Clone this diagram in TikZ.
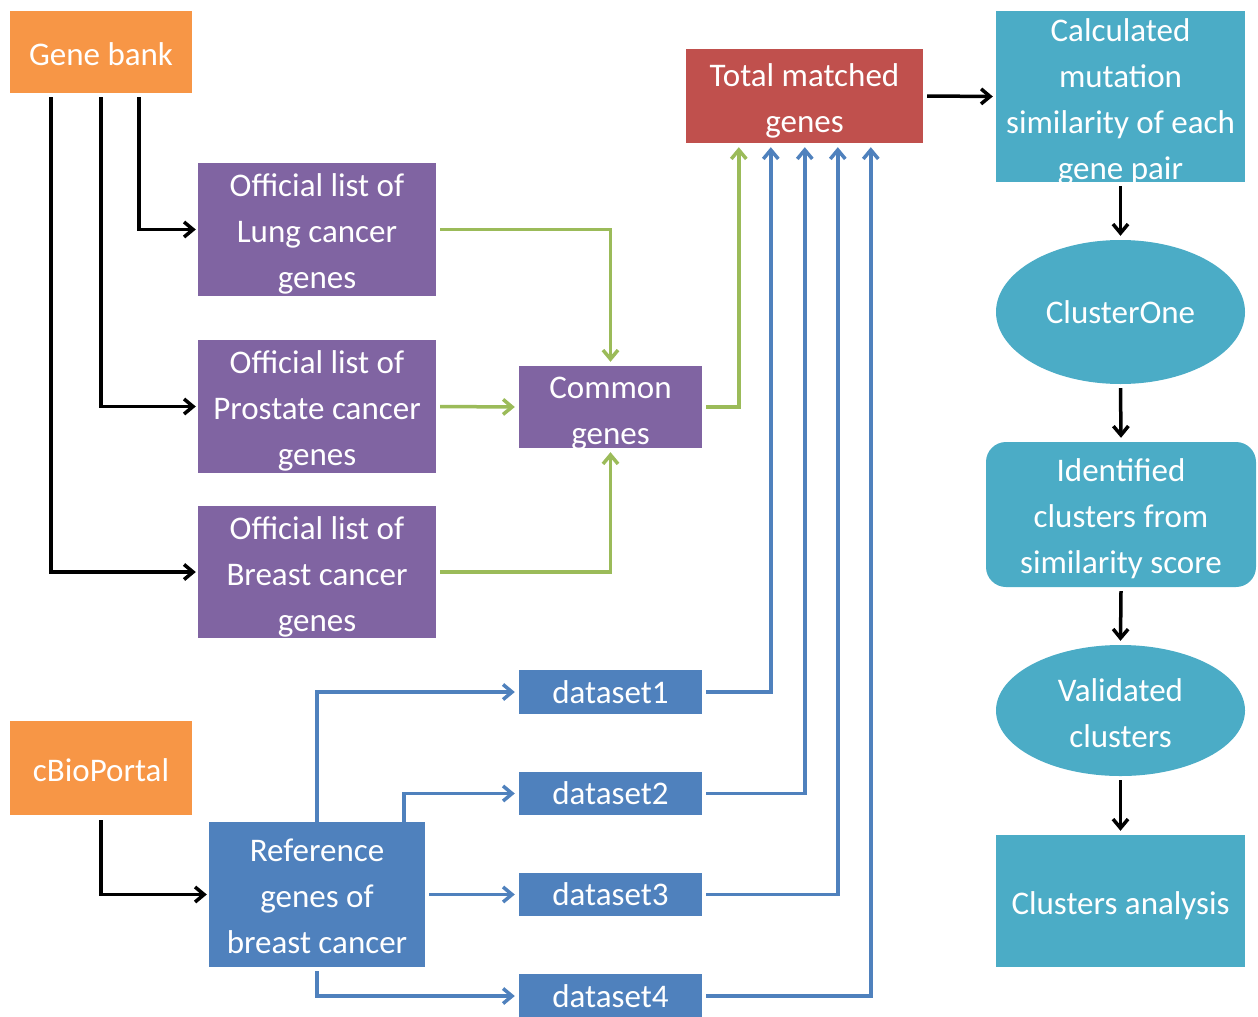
\documentclass[tikz,border=0pt]{standalone}
\usepackage{fontspec}
\setmainfont{Carlito}
\usetikzlibrary{arrows.meta,calc,shapes.geometric}
\definecolor{cOrange}{HTML}{F79646}
\definecolor{cPurple}{HTML}{8064A2}
\definecolor{cRed}{HTML}{C0504D}
\definecolor{cTeal}{HTML}{4BACC6}
\definecolor{cBlue}{HTML}{4F81BD}
\definecolor{cGreen}{HTML}{9BBB59}
\newcommand{\mystrut}[1]{\rule{0pt}{#1pt}}
\tikzset{
  box/.style={rectangle, inner sep=0pt, text=white, align=center,
    font=\fontsize{33}{46}\selectfont},
  tip/.style={-{Straight Barb[length=9pt,width=15pt]}},
  blk/.style={draw=black, line width=3.5pt, tip},
  grn/.style={draw=cGreen, line width=3.5pt, tip},
  blu/.style={draw=cBlue, line width=3.5pt, tip},
}
\begin{document}
\begin{tikzpicture}[x=1pt,y=-1pt]
\useasboundingbox (0,0) rectangle (1258,1017);
% nodes
\node[box, fill=cOrange, minimum width=182pt, minimum height=82pt] (gb) at (101,52) {\mystrut{28}Gene bank};
\node[box, fill=cPurple, minimum width=238pt, minimum height=133pt] (lung) at (317,229.5) {\mystrut{32}Official list of\\Lung cancer\\genes};
\node[box, fill=cPurple, minimum width=238pt, minimum height=133pt] (prost) at (317,406.5) {\mystrut{32}Official list of\\Prostate cancer\\genes};
\node[box, fill=cPurple, minimum width=238pt, minimum height=132pt] (breast) at (317,572) {\mystrut{32}Official list of\\Breast cancer\\genes};
\node[box, fill=cPurple, minimum width=183pt, minimum height=82pt] (common) at (610.5,407) {\mystrut{28}Common\\\smash{genes}};
\node[box, fill=cRed, minimum width=237pt, minimum height=94pt] (total) at (804.5,96) {\mystrut{32}Total matched\\genes};
\node[box, fill=cTeal, minimum width=249pt, minimum height=171pt] (calc) at (1120.5,96.5) {\mystrut{27}Calculated\\mutation\\similarity of each\\\smash{gene pair}};
\node[box, ellipse, fill=cTeal, minimum width=249pt, minimum height=144pt] (c1) at (1120.5,312) {ClusterOne};
\node[box, fill=cTeal, rounded corners=20pt, minimum width=270pt, minimum height=145pt] (ident) at (1121,514.5) {\mystrut{32}Identified\\clusters from\\similarity score};
\node[box, ellipse, fill=cTeal, minimum width=249pt, minimum height=131pt] (valid) at (1120.5,710.5) {\mystrut{28}Validated\\clusters};
\node[box, fill=cTeal, minimum width=249pt, minimum height=132pt] (canal) at (1120.5,901) {\mystrut{33}Clusters analysis};
\node[box, fill=cOrange, minimum width=182pt, minimum height=94pt] (cbio) at (101,768) {\mystrut{28}cBioPortal};
\node[box, fill=cBlue, minimum width=216pt, minimum height=145pt] (ref) at (317,894.5) {\mystrut{27}Reference\\genes of\\breast cancer};
\node[box, fill=cBlue, minimum width=183pt, minimum height=44pt] (d1) at (610.5,692) {dataset1};
\node[box, fill=cBlue, minimum width=183pt, minimum height=43pt] (d2) at (610.5,793.5) {dataset2};
\node[box, fill=cBlue, minimum width=183pt, minimum height=43pt] (d3) at (610.5,894.5) {dataset3};
\node[box, fill=cBlue, minimum width=183pt, minimum height=44pt] (d4) at (610.5,996) {dataset4};
% black connectors
\draw[blk] ($(gb.south west)+(129,4)$) |- ([xshift=-2pt]lung.west);
\draw[blk] ($(gb.south west)+(91,4)$) |- ([xshift=-2pt]prost.west);
\draw[blk] ($(gb.south west)+(41,4)$) |- ([xshift=-2pt]breast.west);
\draw[blk] ($(cbio.south west)+(91,5)$) |- ([xshift=-2pt]ref.west);
\draw[blk] ([xshift=4pt]total.east) -- ([xshift=-3pt]calc.west);
\draw[blk] ([yshift=-4pt]calc.south) -- ([yshift=4pt]c1.north);
\draw[blk] ([yshift=-4pt]c1.south) -- ([yshift=4pt]ident.north);
\draw[blk] ([yshift=-4pt]ident.south) -- ([yshift=4pt]valid.north);
\draw[blk] ([yshift=-4pt]valid.south) -- ([yshift=4pt]canal.north);
% green connectors
\draw[grn] ([xshift=4pt]lung.east) -| ([yshift=4pt]common.north);
\draw[grn] ([xshift=4pt]prost.east) -- ([xshift=-4pt]common.west);
\draw[grn] ([xshift=4pt]breast.east) -| ([yshift=-4pt]common.south);
\draw[grn] ([xshift=4pt]common.east) -| ($(total.south west)+(53,4)$);
% blue connectors
\draw[blu] ($(ref.north west)+(108,0)$) |- ([xshift=-4pt]d1.west);
\draw[blu] ($(ref.north west)+(195,0)$) |- ([xshift=-4pt]d2.west);
\draw[blu] ([xshift=4pt]ref.east) -- ([xshift=-4pt]d3.west);
\draw[blu] ($(ref.south west)+(108,4)$) |- ([xshift=-4pt]d4.west);
\draw[blu] ([xshift=4pt]d1.east) -| ($(total.south west)+(85,4)$);
\draw[blu] ([xshift=4pt]d2.east) -| ($(total.south west)+(119,4)$);
\draw[blu] ([xshift=4pt]d3.east) -| ($(total.south west)+(152,4)$);
\draw[blu] ([xshift=4pt]d4.east) -| ($(total.south west)+(185,4)$);
\end{tikzpicture}
\end{document}
